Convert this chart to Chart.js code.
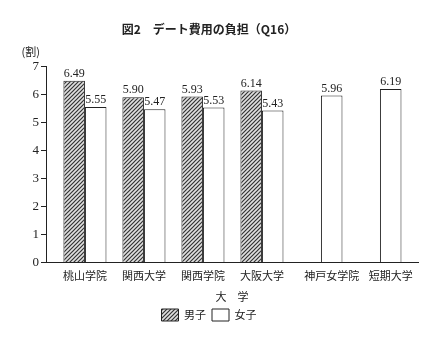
<!DOCTYPE html>
<html lang="ja">
<head>
<meta charset="utf-8">
<script src="https://cdn.jsdelivr.net/npm/chart.js@4.4.1/dist/chart.umd.min.js"></script>
<style>
  html, body { margin: 0; padding: 0; background: #fff; }
  #wrap { width: 422px; height: 346px; }
</style>
</head>
<body>
<div id="wrap"><canvas id="chart" width="422" height="346"></canvas></div>
<script>
// データ
const universities = ['桃山学院', '関西大学', '関西学院', '大阪大学', '神戸女学院', '短期大学'];
const maleValues = [6.49, 5.90, 5.93, 6.14, null, null];
const femaleValues = [5.55, 5.47, 5.53, 5.43, 5.96, 6.19];
const yTicks = [0, 1, 2, 3, 4, 5, 6, 7];

const catPercent = 0.73;

// 斜線パターン (男子)
function makeHatch() {
    const c = document.createElement('canvas');
    c.width = 4; c.height = 4;
    const g = c.getContext('2d');
    g.fillStyle = '#e0e0e0';
    g.fillRect(0, 0, 4, 4);
    g.strokeStyle = '#333';
    g.lineWidth = 1.2;
    g.beginPath();
    g.moveTo(0, 4); g.lineTo(4, 0);
    g.moveTo(-1, 1); g.lineTo(1, -1);
    g.moveTo(3, 5); g.lineTo(5, 3);
    g.stroke();
    return g.createPattern(c, 'repeat');
}

// 棒の上に数値
const valueLabels = {
    id: 'valueLabels',
    afterDatasetsDraw(chart) {
        const ctx = chart.ctx;
        ctx.save();
        ctx.font = '12px "Liberation Serif", "DejaVu Serif", serif';
        ctx.fillStyle = '#222';
        ctx.textAlign = 'center';
        ctx.textBaseline = 'bottom';
        chart.data.datasets.forEach((ds, di) => {
            chart.getDatasetMeta(di).data.forEach((bar, i) => {
                const v = ds.data[i].y;
                if (v == null) return;
                ctx.fillText(v.toFixed(2), bar.x, bar.y - 1);
            });
        });
        ctx.restore();
    }
};

// 単位 (割)
const unitLabel = {
    id: 'unitLabel',
    afterDraw(chart) {
        const ctx = chart.ctx;
        const y = chart.scales.y;
        ctx.save();
        ctx.font = '11px "Noto Sans CJK JP", sans-serif';
        ctx.fillStyle = '#222';
        ctx.textAlign = 'right';
        ctx.textBaseline = 'middle';
        ctx.fillText('(割)', y.right - 6, y.top - 15);
        ctx.restore();
    }
};

// 女子だけの大学は棒の中心にラベルを置く
const tickPositions = universities.map((_, i) =>
    maleValues[i] == null ? i + catPercent / 4 : i);

new Chart(document.getElementById('chart'), {
    type: 'bar',
    data: {
        datasets: [
            {
                label: '男子',
                data: maleValues.map((v, i) => ({ x: i, y: v })),
                backgroundColor: makeHatch(),
                borderColor: '#222',
                borderWidth: 1
            },
            {
                label: '女子',
                data: femaleValues.map((v, i) => ({ x: i, y: v })),
                backgroundColor: '#fff',
                borderColor: '#222',
                borderWidth: 1
            }
        ]
    },
    options: {
        responsive: false,
        animation: false,
        categoryPercentage: catPercent,
        barPercentage: 1,
        layout: { padding: { left: 0, right: 4, top: 0, bottom: 15 } },
        plugins: {
            title: {
                display: true,
                text: '図2　デート費用の負担（Q16）',
                color: '#222',
                font: { family: '"Noto Sans CJK JP", sans-serif', size: 12, weight: 'bold' },
                padding: { top: 22, bottom: 30 }
            },
            legend: {
                position: 'bottom',
                labels: {
                    color: '#222',
                    font: { family: '"Noto Sans CJK JP", sans-serif', size: 11 },
                    boxWidth: 17,
                    boxHeight: 12,
                    padding: 6
                }
            },
            tooltip: { enabled: false }
        },
        scales: {
            x: {
                type: 'linear',
                min: -0.66,
                max: 5.645,
                offset: false,
                afterBuildTicks: scale => {
                    scale.ticks = tickPositions.map(v => ({ value: v }));
                },
                ticks: {
                    autoSkip: false,
                    maxRotation: 0,
                    color: '#222',
                    padding: 7,
                    font: { family: '"Noto Sans CJK JP", sans-serif', size: 11 },
                    callback: (value, index) => universities[index]
                },
                grid: { display: false, drawTicks: false, offset: false },
                border: { display: true, color: '#222', width: 1 },
                title: {
                    display: true,
                    text: '大　学',
                    color: '#222',
                    font: { family: '"Noto Sans CJK JP", sans-serif', size: 11 },
                    padding: { top: 0, bottom: 0 }
                }
            },
            y: {
                min: 0,
                max: 7,
                afterBuildTicks: scale => {
                    scale.ticks = yTicks.map(v => ({ value: v }));
                },
                afterFit: scale => { scale.width = 46; },
                ticks: {
                    color: '#222',
                    padding: 2,
                    font: { family: '"Liberation Serif", "DejaVu Serif", serif', size: 13 }
                },
                grid: {
                    drawOnChartArea: false,
                    drawTicks: true,
                    tickLength: 5,
                    color: '#222'
                },
                border: { display: true, color: '#222', width: 1 }
            }
        }
    },
    plugins: [valueLabels, unitLabel]
});
</script>
</body>
</html>
